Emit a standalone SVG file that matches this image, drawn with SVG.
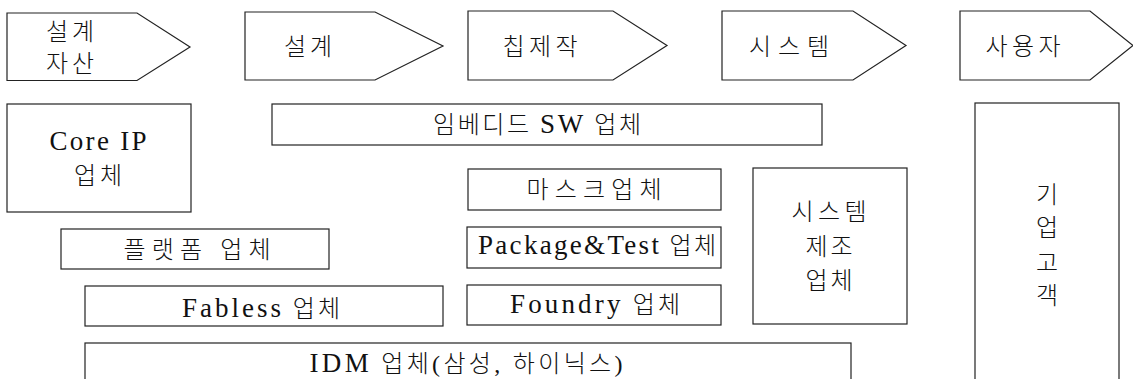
<svg xmlns="http://www.w3.org/2000/svg" width="1133" height="379" viewBox="0 0 1133 379">
<style>
.s{fill:#fff;stroke:#222;stroke-width:1.2}
.t{font-family:"Liberation Serif","Noto Sans CJK KR",serif;font-size:24px;font-weight:300;fill:#111;text-anchor:middle}
.c{font-size:24px}
.l{font-size:27px;font-weight:400}
</style>
<rect width="1133" height="379" fill="#fff"/>
<g id="connectors"></g>
<g id="stage1"><polygon class="s" points="7,13 137,13 190,47 137,80.5 7,80.5"/>
<text class="t c" x="70" y="40" textLength="48" lengthAdjust="spacing">설계</text>
<text class="t c" x="70" y="72" textLength="48" lengthAdjust="spacing">자산</text></g>
<g id="stage2"><polygon class="s" points="245,12 375,12 443,46 375,80 245,80"/>
<text class="t c" x="308" y="55" textLength="48" lengthAdjust="spacing">설계</text></g>
<g id="stage3"><polygon class="s" points="468,11 613,11 667,45.5 613,80 468,80"/>
<text class="t c" x="540" y="55" textLength="75" lengthAdjust="spacing">칩제작</text></g>
<g id="stage4"><polygon class="s" points="722,11 853,11 906,45.5 853,80 722,80"/>
<text class="t c" x="789" y="55" textLength="80" lengthAdjust="spacing">시스템</text></g>
<g id="stage5"><polygon class="s" points="960,11 1090,11 1133,45.5 1090,80 960,80"/>
<text class="t c" x="1023" y="55" textLength="75" lengthAdjust="spacing">사용자</text></g>
<g id="coreip"><rect class="s" x="7" y="104" width="184" height="108"/>
<text class="t" x="98" y="150" textLength="97" lengthAdjust="spacing"><tspan class="l">Core IP</tspan></text>
<text class="t" x="98" y="184" textLength="48" lengthAdjust="spacing">업체</text></g>
<g id="embedded"><rect class="s" x="272" y="104" width="550" height="41"/>
<text class="t" x="537" y="133" textLength="208" lengthAdjust="spacing">임베디드 <tspan class="l">SW</tspan> 업체</text></g>
<g id="mask"><rect class="s" x="468" y="169" width="253" height="41"/>
<text class="t" x="594" y="198" textLength="135" lengthAdjust="spacing">마스크업체</text></g>
<g id="package"><rect class="s" x="467" y="227" width="254" height="41"/>
<text class="t" x="597" y="254" textLength="238" lengthAdjust="spacing"><tspan class="l">Package&amp;Test</tspan> 업체</text></g>
<g id="foundry"><rect class="s" x="467" y="285" width="254" height="40"/>
<text class="t" x="595" y="313" textLength="170" lengthAdjust="spacing"><tspan class="l">Foundry</tspan> 업체</text></g>
<g id="sysmfg"><rect class="s" x="753" y="168" width="154" height="156"/>
<text class="t" x="829" y="220" textLength="75" lengthAdjust="spacing">시스템</text>
<text class="t" x="829" y="255" textLength="47" lengthAdjust="spacing">제조</text>
<text class="t" x="829" y="289" textLength="47" lengthAdjust="spacing">업체</text></g>
<g id="customer"><rect class="s" x="975" y="103" width="144" height="290"/>
<text class="t" x="1047" y="203">기</text>
<text class="t" x="1047" y="236">업</text>
<text class="t" x="1047" y="271">고</text>
<text class="t" x="1047" y="304">객</text></g>
<g id="platform"><rect class="s" x="61" y="229" width="268" height="40"/>
<text class="t" x="197" y="258" textLength="147" lengthAdjust="spacing">플랫폼 업체</text></g>
<g id="fabless"><rect class="s" x="85" y="286" width="358" height="40"/>
<text class="t" x="261" y="317" textLength="158" lengthAdjust="spacing"><tspan class="l">Fabless</tspan> 업체</text></g>
<g id="idm"><rect class="s" x="85" y="343" width="766" height="50"/>
<text class="t" x="466" y="372" textLength="313" lengthAdjust="spacing"><tspan class="l">IDM</tspan> 업체(삼성, 하이닉스)</text></g>
</svg>
